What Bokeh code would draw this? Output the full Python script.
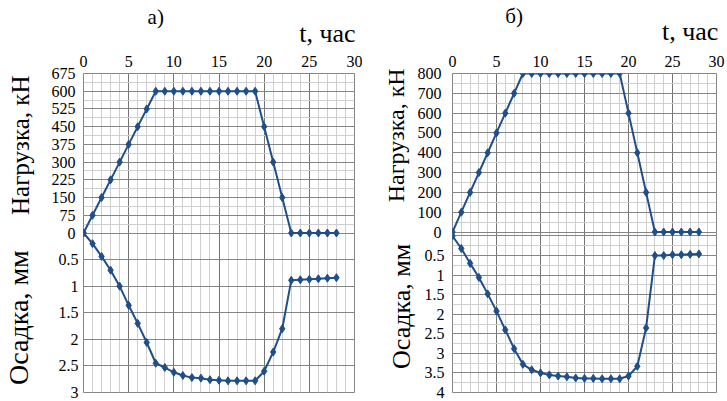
from bokeh.plotting import figure
from bokeh.models import (Range1d, FixedTicker, ColumnDataSource, CustomJSTickFormatter,
                          LinearAxis, Grid)
from bokeh.layouts import row
from bokeh.embed import file_html
from bokeh.resources import INLINE

# ---------------- data ----------------
hours = [0, 1, 2, 3, 4, 5, 6, 7, 8, 9, 10, 11, 12, 13, 14, 15, 16, 17, 18, 19,
         20, 21, 22, 23, 24, 25, 26, 27, 28]

load_a = [0, 75, 150, 225, 300, 375, 450, 525, 600, 600, 600, 600, 600, 600, 600,
          600, 600, 600, 600, 600, 450, 300, 150, 0, 0, 0, 0, 0, 0]
settle_a = [0, 0.2, 0.44, 0.7, 1.0, 1.36, 1.7, 2.06, 2.45, 2.53, 2.62, 2.68, 2.72,
            2.73, 2.76, 2.77, 2.78, 2.78, 2.78, 2.78, 2.6, 2.24, 1.8, 0.89, 0.88,
            0.87, 0.86, 0.85, 0.84]

load_b = [0, 100, 200, 300, 400, 500, 600, 700, 800, 800, 800, 800, 800, 800, 800,
          800, 800, 800, 800, 800, 600, 400, 200, 0, 0, 0, 0, 0, 0]
settle_b = [0, 0.32, 0.7, 1.06, 1.48, 1.92, 2.4, 2.88, 3.28, 3.42, 3.5, 3.55, 3.58,
            3.6, 3.63, 3.64, 3.64, 3.65, 3.65, 3.65, 3.58, 3.33, 2.35, 0.5, 0.5,
            0.48, 0.48, 0.47, 0.46]

x_ticks = [0, 5, 10, 15, 20, 25, 30]
x_minor = list(range(0, 31))

load_a_ticks = [0, 75, 150, 225, 300, 375, 450, 525, 600, 675]
load_a_minor = [0, 37.5, 75, 112.5, 150, 187.5, 225, 262.5, 300, 337.5, 375, 412.5,
                450, 487.5, 525, 562.5, 600, 637.5, 675]
settle_a_ticks = [0.5, 1, 1.5, 2, 2.5, 3]

load_b_ticks = [0, 100, 200, 300, 400, 500, 600, 700, 800]
load_b_minor = [0, 50, 100, 150, 200, 250, 300, 350, 400, 450, 500, 550, 600, 650,
                700, 750, 800]
settle_b_ticks = [0.5, 1, 1.5, 2, 2.5, 3, 3.5, 4]
settle_b_minor = [0, 0.25, 0.5, 0.75, 1, 1.25, 1.5, 1.75, 2, 2.25, 2.5, 2.75, 3,
                  3.25, 3.5, 3.75, 4]

x_label = "t, час"
load_label = "Нагрузка, кН"
settle_label = "Осадка, мм"
panel_titles = ["а)", "б)"]

# ---------------- style ----------------
FONT = "Liberation Serif"
LINE = "#1f4e89"
MAJOR = "#858585"
VMAJOR = "#747474"
MINOR = "#cfcfcf"
TICK_FS = "16px"

num_fmt = CustomJSTickFormatter(code="return tick.toString();")


def style_axis(ax):
    ax.axis_line_color = None
    ax.major_tick_line_color = None
    ax.minor_tick_line_color = None
    ax.major_tick_out = 0
    ax.major_tick_in = 0
    ax.minor_tick_out = 0
    ax.minor_tick_in = 0
    ax.major_label_text_font = FONT
    ax.major_label_text_font_size = TICK_FS
    ax.major_label_text_color = "black"


def text_axis(p, side, text, at, fs, standoff, range_name="default", vertical=False):
    """An axis that carries a single text label (used for titles / axis names)."""
    ax = LinearAxis(ticker=FixedTicker(ticks=[at]), y_range_name=range_name,
                    formatter=CustomJSTickFormatter(args=dict(label=text),
                                                    code="return label;"))
    style_axis(ax)
    ax.major_label_text_font_size = fs
    ax.major_label_standoff = standoff
    if vertical:
        ax.major_label_orientation = "vertical"
    p.add_layout(ax, side)


def panel(cfg):
    w, h = cfg["w"], cfg["h"]
    ml, mr, mt, mb = cfg["borders"]
    H = h - mt - mb
    Lmax, Smax = cfg["Lmax"], cfg["Smax"]
    zl, zs = cfg["z_load"], cfg["z_settle"]
    l_bottom = Lmax - H * Lmax / zl
    s_top = -zs * Smax / (H - zs)

    p = figure(width=w, height=h, x_range=Range1d(0, 30), title=None,
               y_range=Range1d(l_bottom, Lmax), x_axis_location="above",
               output_backend="svg", toolbar_location=None,
               min_border_left=ml, min_border_right=mr,
               min_border_top=mt, min_border_bottom=mb)
    p.extra_y_ranges = {"settle": Range1d(Smax, s_top)}
    p.outline_line_color = MAJOR
    p.background_fill_color = "white"
    p.border_fill_color = "white"

    # vertical grid over both sub-plots
    p.xgrid.ticker = FixedTicker(ticks=x_ticks, minor_ticks=x_minor)
    p.xgrid.grid_line_color = VMAJOR
    p.xgrid.minor_grid_line_color = MINOR
    # load grid
    p.ygrid.ticker = FixedTicker(ticks=cfg["load_ticks"], minor_ticks=cfg["load_minor"])
    p.ygrid.grid_line_color = MAJOR
    p.ygrid.minor_grid_line_color = MINOR
    # settlement grid
    g2 = Grid(dimension=1, y_range_name="settle",
              ticker=FixedTicker(ticks=[0] + cfg["settle_ticks"],
                                 minor_ticks=cfg["settle_minor"]),
              grid_line_color=MAJOR,
              minor_grid_line_color=(MINOR if cfg["settle_minor"] else None))
    p.add_layout(g2)

    # top x axis
    xa = p.xaxis[0]
    style_axis(xa)
    xa.ticker = FixedTicker(ticks=x_ticks)
    xa.major_label_standoff = 7

    # settlement tick labels (inner left axis)
    ya = p.yaxis[0]
    style_axis(ya)
    ya.y_range_name = "settle"
    ya.ticker = FixedTicker(ticks=cfg["settle_ticks"])
    ya.formatter = num_fmt
    ya.major_label_standoff = cfg["tick_standoff"]

    # load tick labels (next left axis, pulled in to line up with the others)
    la = LinearAxis(ticker=FixedTicker(ticks=cfg["load_ticks"]), formatter=num_fmt)
    style_axis(la)
    la.major_label_standoff = -20
    p.add_layout(la, "left")

    # axis names, each centred on its own sub-plot
    names = [
        (load_label, Lmax * cfg["load_name_frac"], cfg["load_fs"],
         cfg["load_name_standoff"], "default"),
        (settle_label, Smax * cfg["settle_name_frac"], cfg["settle_fs"],
         cfg["settle_name_standoff"], "settle"),
    ]
    if cfg["settle_name_first"]:
        names.reverse()
    for text, at, fs, so, rn in names:
        text_axis(p, "left", text, at, fs, so, range_name=rn, vertical=True)

    # header texts
    text_axis(p, "above", x_label, 27, "26px", cfg["xlabel_standoff"])
    text_axis(p, "above", cfg["title"], cfg["title_at"], "21px", cfg["title_standoff"])

    # series
    s1 = ColumnDataSource(dict(t=hours, v=cfg["load"]))
    p.line("t", "v", source=s1, line_color=LINE, line_width=2)
    p.scatter("t", "v", source=s1, marker="diamond", size=8,
              fill_color=LINE, line_color=LINE)
    s2 = ColumnDataSource(dict(t=hours, v=cfg["settle"]))
    p.line("t", "v", source=s2, line_color=LINE, line_width=2, y_range_name="settle")
    p.scatter("t", "v", source=s2, marker="diamond", size=8,
              fill_color=LINE, line_color=LINE, y_range_name="settle")
    return p


pa = panel(dict(w=362, h=401, borders=(73, 8, 66, 9), Lmax=675, Smax=3,
                z_load=163, z_settle=163,
                load=load_a, settle=settle_a,
                load_ticks=load_a_ticks, load_minor=load_a_minor,
                settle_ticks=settle_a_ticks, settle_minor=[],
                tick_standoff=5,
                load_fs="25px", settle_fs="28px",
                load_name_frac=0.55, settle_name_frac=0.53,
                settle_name_first=False,
                load_name_standoff=14, settle_name_standoff=-30,
                xlabel_standoff=5, title=panel_titles[0], title_at=8,
                title_standoff=-13))

pb = panel(dict(w=363, h=401, borders=(90, 9, 68, 9), Lmax=800, Smax=4,
                z_load=161, z_settle=165,
                load=load_b, settle=settle_b,
                load_ticks=load_b_ticks, load_minor=load_b_minor,
                settle_ticks=settle_b_ticks, settle_minor=settle_b_minor,
                tick_standoff=8,
                load_fs="24px", settle_fs="26px",
                load_name_frac=0.61, settle_name_frac=0.45,
                settle_name_first=True,
                load_name_standoff=-25, settle_name_standoff=-2,
                xlabel_standoff=7, title=panel_titles[1], title_at=7,
                title_standoff=-14))

layout = row(pa, pb)

open("out.html", "w").write(file_html(layout, INLINE))
